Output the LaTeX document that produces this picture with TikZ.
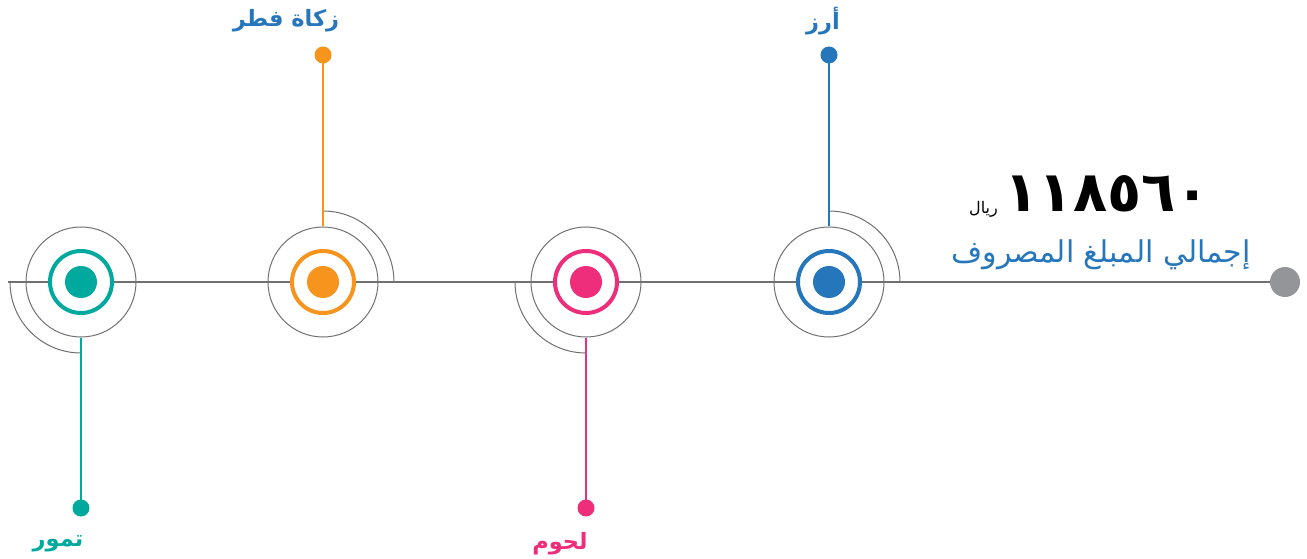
\documentclass[tikz,border=0pt]{standalone}
\usepackage{fontspec}
\TeXXeTstate=1
\newfontfamily\arabicfont[Script=Arabic]{DejaVu Sans}
\newfontfamily\arabicbold[Script=Arabic]{DejaVu Sans Bold}
\definecolor{cblue}{HTML}{2676BC}
\definecolor{corange}{HTML}{F7941D}
\definecolor{cpink}{HTML}{EE2E7B}
\definecolor{cgreen}{HTML}{00A99D}
\definecolor{cgray}{HTML}{707070}
\definecolor{cdot}{HTML}{939598}
\tikzset{
  outerc/.style={circle,draw=cgray,line width=1pt,minimum size=110pt,inner sep=0pt},
  ringc/.style={circle,draw=#1,fill=white,line width=4pt,minimum size=62pt,inner sep=0pt},
  corec/.style={circle,fill=#1,minimum size=32pt,inner sep=0pt},
  enddot/.style={circle,fill=#1,minimum size=17pt,inner sep=0pt},
  stem/.style={draw=#1,line width=1.5pt},
  arcline/.style={draw=cgray,line width=1pt},
  lbl/.style={text=#1,font=\arabicbold\fontsize{22.5}{26}\selectfont,inner sep=0pt},
}
\begin{document}
\begin{tikzpicture}[x=1pt,y=1pt]
\useasboundingbox (0,0) rectangle (1307,558);
% main line
\coordinate (start) at (8,276);
\node[circle,fill=cdot,minimum size=30pt,inner sep=0pt] (gdot) at (1285,276) {};
\draw[cgray,line width=1.2pt] (start) -- (gdot);
% outer circles
\node[outerc] (o1) at (81,276) {};
\node[outerc] (o2) at (323,276) {};
\node[outerc] (o3) at (586,276) {};
\node[outerc] (o4) at (829,276) {};
% rings and cores
\node[ringc=cgreen] (r1) at (81,276) {};
\node[corec=cgreen] (c1) at (81,276) {};
\node[ringc=corange] (r2) at (323,276) {};
\node[corec=corange] (c2) at (323,276) {};
\node[ringc=cpink] (r3) at (586,276) {};
\node[corec=cpink] (c3) at (586,276) {};
\node[ringc=cblue] (r4) at (829,276) {};
\node[corec=cblue] (c4) at (829,276) {};
% arcs
\draw[arcline] ([yshift=71pt]o2.center) arc[start angle=90,end angle=0,radius=71pt];
\draw[arcline] ([yshift=71pt]o4.center) arc[start angle=90,end angle=0,radius=71pt];
\draw[arcline] ([xshift=-71pt]o1.center) arc[start angle=180,end angle=270,radius=71pt];
\draw[arcline] ([xshift=-71pt]o3.center) arc[start angle=180,end angle=270,radius=71pt];
% end dots and stems
\node[enddot=cgreen] (d1) at (81,50) {};
\node[enddot=corange] (d2) at (323,503) {};
\node[enddot=cpink] (d3) at (586,50) {};
\node[enddot=cblue] (d4) at (829,503) {};
\draw[stem=cgreen] (o1.south) -- (d1.center);
\draw[stem=corange] (o2.north) -- (d2.center);
\draw[stem=cpink] (o3.south) -- (d3.center);
\draw[stem=cblue] (o4.north) -- (d4.center);
% labels
\node[lbl=cgreen] (l1) at (58,14) {\beginR تمور\endR};
\node[lbl=cblue] (l2) at (286,537) {\beginR زكاة فطر\endR};
\node[lbl=cpink] (l3) at (560,14) {\beginR لحوم\endR};
\node[lbl=cblue] (l4) at (823,537) {\beginR أرز\endR};
% total
\node[anchor=east,text=cblue,font=\arabicfont\fontsize{30}{34}\selectfont,inner sep=0pt] (tot) at (1251,303) {\beginR إجمالي المبلغ المصروف\endR};
\node[anchor=east,font=\arabicbold\fontsize{56}{60}\selectfont,inner sep=0pt] (num) at (1210,364) {١١٨٥٦٠};
\node[anchor=east,font=\arabicfont\fontsize{16}{19}\selectfont,inner sep=0pt] (cur) at (998,349) {\beginR ريال\endR};
\end{tikzpicture}
\end{document}
